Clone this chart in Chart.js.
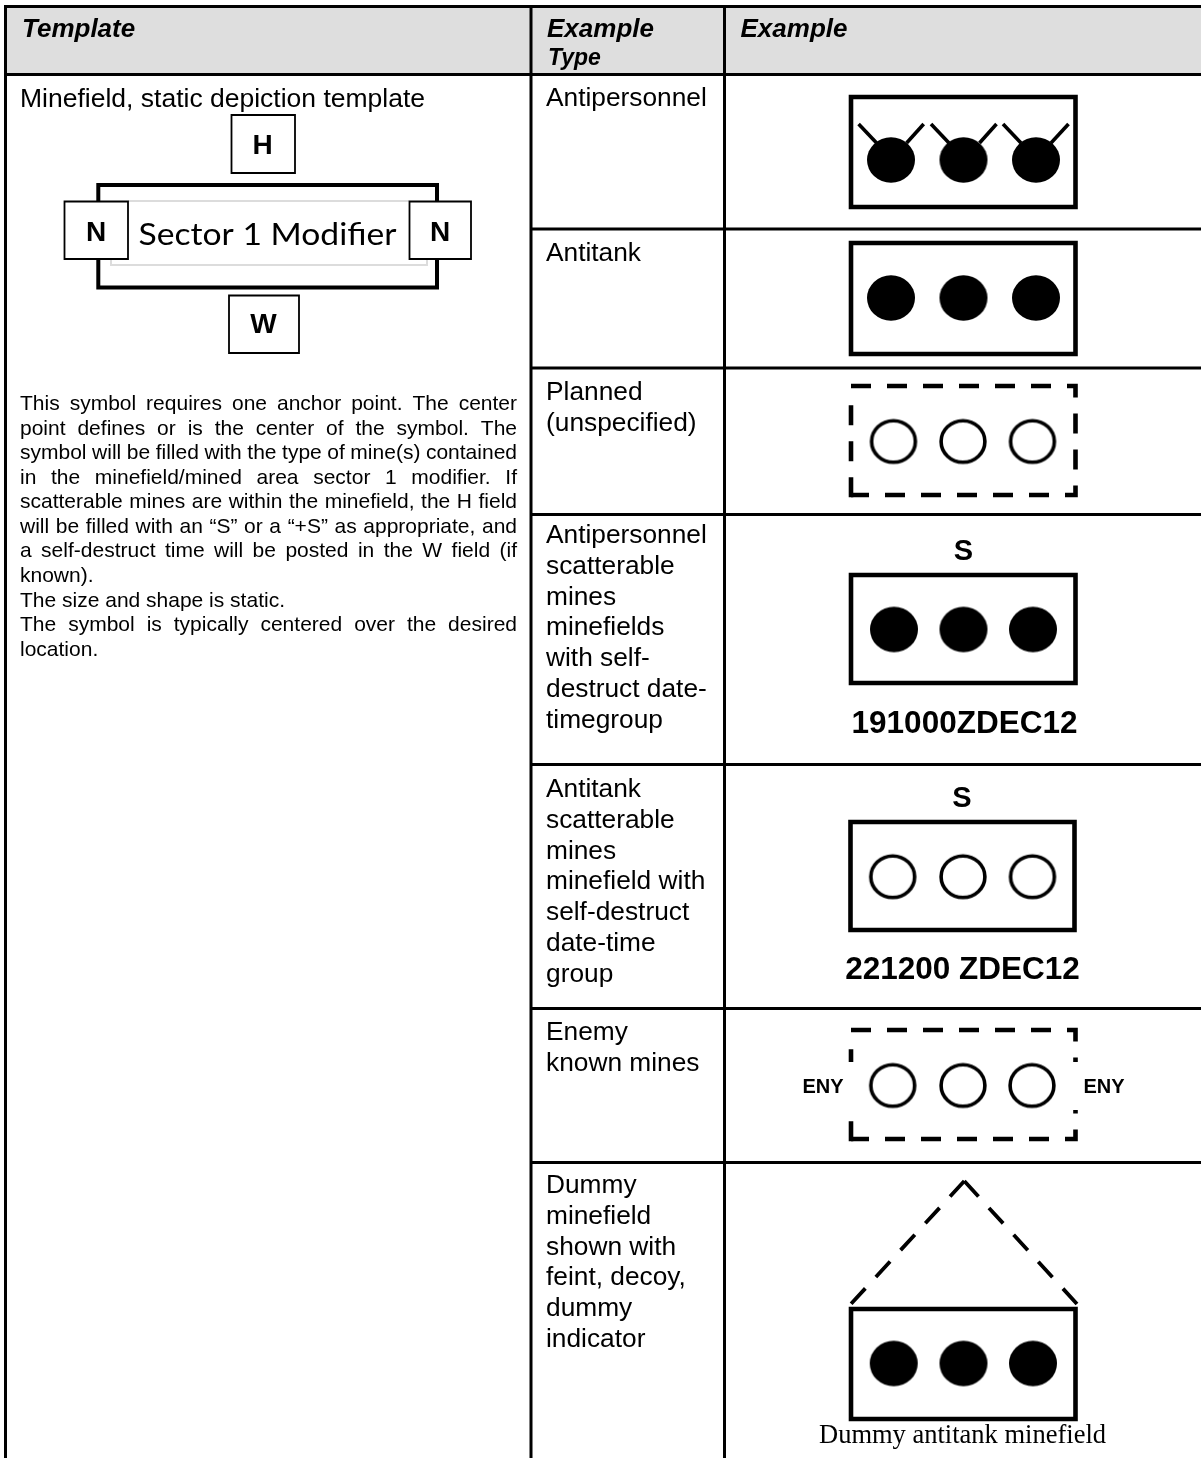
<!DOCTYPE html>
<html>
<head>
<meta charset="utf-8">
<title>Minefield, static depiction template</title>
<script src="https://cdn.jsdelivr.net/npm/chart.js@4"></script>
<style>html,body{margin:0;padding:0;background:#fff}canvas{display:block}</style>
</head>
<body>
<canvas id="c" width="1201" height="1458"></canvas>
<script>
// ---------- table text ----------
const headerLabels = ["Template", "Example", "Type", "Example"];
const templateTitle = "Minefield, static depiction template";
const templateFields = ["H", "N", "N", "W"];
const sectorLabel = "Sector 1 Modifier";
const paragraphLines = [
  "This symbol requires one anchor point. The center",
  "point defines or is the center of the symbol. The",
  "symbol will be filled with the type of mine(s) contained",
  "in the minefield/mined area sector 1 modifier. If",
  "scatterable mines are within the minefield, the H field",
  "will be filled with an \u201CS\u201D or a \u201C+S\u201D as appropriate, and",
  "a self-destruct time will be posted in the W field (if",
  "known).",
  "The size and shape is static.",
  "The symbol is typically centered over the desired",
  "location."
];
const exampleTypes = [
  ["Antipersonnel"],
  ["Antitank"],
  ["Planned", "(unspecified)"],
  ["Antipersonnel", "scatterable", "mines", "minefields", "with self-", "destruct date-", "timegroup"],
  ["Antitank", "scatterable", "mines", "minefield with", "self-destruct", "date-time", "group"],
  ["Enemy", "known mines"],
  ["Dummy", "minefield", "shown with", "feint, decoy,", "dummy", "indicator"]
];
const exampleTypeBaselines = [106, 261, 400, 543, 797, 1040, 1193];
const symbolLabels = ["S", "191000ZDEC12", "S", "221200 ZDEC12", "ENY", "ENY", "Dummy antitank minefield"];

// ---------- table rules (scale values) ----------
const pageWidth = 1201, pageHeight = 1458;
const columnRuleX = [5.5, 531, 724.5];
const headerRuleY = 74.5;
const rowRuleY = [229, 368, 514.5, 764.5, 1008.5, 1162.5];
const tableTopY = 6.5;

// ---------- template figure ----------
const templateFrameX = [98.3, 437], templateFrameY = [185, 287.5];
const fieldBoxH = [[231.5, 295], [115, 173]];
const fieldBoxNL = [[64.5, 128], [201.5, 259]];
const fieldBoxNR = [[409.5, 471], [201.5, 259]];
const fieldBoxW = [[229, 299], [295.5, 353]];

// ---------- example symbols ----------
const frameX = [851, 1075.5];
const frame1Y = [97, 207], frame2Y = [243, 354], frame3Y = [386, 495], frame4Y = [575, 683],
      frame5Y = [822, 930], frame6Y = [1030, 1139], frame7Y = [1309, 1419];
const frame5X = [850.5, 1074.5];
const mines1X = [891, 963.5, 1036], mines1Y = 160;
const mines2X = [891, 963.5, 1036], mines2Y = 298;
const mines3X = [893.5, 963, 1032.5], mines3Y = 441.5;
const mines4X = [894, 963.5, 1033], mines4Y = 629.5;
const mines5X = [892.7, 963, 1032.5], mines5Y = 876.7;
const mines6X = [892.7, 963, 1032], mines6Y = 1085.5;
const mines7X = [893.7, 963.5, 1033], mines7Y = 1363.5;
const fuses = [
  [[858.6, 124], [876.6, 143]], [[923.7, 124], [906.6, 143]],
  [[931, 124], [949, 143]],     [[996.5, 124], [979.5, 143]],
  [[1003, 124], [1021, 143]],   [[1068.5, 124], [1051, 143]]
];
const dummyApex = [964.3, 1181], dummyLeftEnd = [850, 1305], dummyRightEnd = [1077, 1304];
const enyMaskY = [1062, 1110];

// ---------- mine glyphs: slightly oval, as in the reference ----------
function mineGlyph(solid) {
  const g = document.createElement("canvas");
  g.width = 50; g.height = 48;
  const k = g.getContext("2d");
  k.beginPath();
  if (solid) {
    k.ellipse(25, 24, 24, 22.7, 0, 0, Math.PI * 2);
    k.fillStyle = "#000"; k.fill();
  } else {
    k.ellipse(25, 24, 21.9, 20.8, 0, 0, Math.PI * 2);
    k.fillStyle = "#fff"; k.fill();
    k.strokeStyle = "#000"; k.lineWidth = 3.6; k.stroke();
  }
  return g;
}
const solidMine = mineGlyph(true), openMine = mineGlyph(false);

// ---------- dataset helpers ----------
const sets = [];
const xy = (p) => ({ x: p[0], y: p[1] });
function line(points, width, color, extra) {
  sets.push(Object.assign({
    type: "scatter", showLine: true, data: points.map(xy), borderColor: color || "#000",
    borderWidth: width, pointRadius: 0, borderCapStyle: "butt", borderJoinStyle: "miter",
    tension: 0, fill: false, clip: false
  }, extra || {}));
}
function box(xs, ys, width, extra) {
  line([[xs[0], ys[0]], [xs[1], ys[0]], [xs[1], ys[1]], [xs[0], ys[1]], [xs[0], ys[0]]], width, "#000",
    Object.assign({ borderCapStyle: "square" }, extra || {}));
}
function mines(xs, y, solid) {
  sets.push({
    type: "scatter", showLine: false, data: xs.map((x) => ({ x, y })),
    pointStyle: solid ? solidMine : openMine, pointRadius: 23, pointHoverRadius: 23, clip: false
  });
}
function dashedFrame(xs, ys) {
  const dash = { borderDash: [20, 16], borderCapStyle: "butt" };
  line([[xs[0], ys[0]], [xs[1], ys[0]], [xs[1], ys[1]], [xs[0], ys[1]]], 4.6, "#000", dash);
  line([[xs[0], ys[1] + 2.3], [xs[0], ys[0] + 12]], 4.6, "#000", dash);
}

// ---------- painted in this order ----------
line([[columnRuleX[0], 40.5], [pageWidth, 40.5]], 67, "#dedede");
line([[columnRuleX[0] - 1.5, tableTopY], [pageWidth, tableTopY]], 3);
line([[columnRuleX[0], headerRuleY], [pageWidth, headerRuleY]], 3);
rowRuleY.forEach((y) => line([[columnRuleX[1], y], [pageWidth, y]], 3));
columnRuleX.forEach((x) => line([[x, tableTopY - 1.5], [x, pageHeight]], 3));

// template figure
box(templateFrameX, templateFrameY, 4);
line([[128, 201], [409, 201]], 2, "#dcdcdc");
line([[111, 259], [111, 265], [427, 265], [427, 259]], 2, "#dcdcdc");
[fieldBoxH, fieldBoxNL, fieldBoxNR, fieldBoxW].forEach((b) =>
  box(b[0], b[1], 1.8, { fill: "shape", backgroundColor: "#fff" }));

// example 1: antipersonnel
box(frameX, frame1Y, 4.6);
fuses.forEach((f) => line(f, 3.6));
mines(mines1X, mines1Y, true);
// example 2: antitank
box(frameX, frame2Y, 4.6);
mines(mines2X, mines2Y, true);
// example 3: planned
dashedFrame(frameX, frame3Y);
mines(mines3X, mines3Y, false);
// example 4
box(frameX, frame4Y, 4.6);
mines(mines4X, mines4Y, true);
// example 5
box(frame5X, frame5Y, 4.6);
mines(mines5X, mines5Y, false);
// example 6: enemy
dashedFrame(frameX, frame6Y);
line([[frameX[0], enyMaskY[0]], [frameX[0], enyMaskY[1]]], 7, "#fff");
line([[frameX[1], enyMaskY[0]], [frameX[1], enyMaskY[1]]], 7, "#fff");
mines(mines6X, mines6Y, false);
// example 7: dummy
line([dummyApex, dummyLeftEnd], 3.8, "#000", { borderDash: [21, 15.5] });
line([dummyApex, dummyRightEnd], 3.8, "#000", { borderDash: [21, 15.5] });
box(frameX, frame7Y, 4.6);
mines(mines7X, mines7Y, true);

sets.forEach((d, i) => { d.order = sets.length - i; });

// ---------- text plugin (positions go through the scales) ----------
const SANS = '"Liberation Sans", Arial, sans-serif';
const tableText = {
  id: "tableText",
  afterDatasetsDraw(chart) {
    const c = chart.ctx, X = chart.scales.x, Y = chart.scales.y;
    const put = (s, x, y, font, align, fitW) => {
      c.save();
      c.font = font; c.fillStyle = "#000"; c.textBaseline = "alphabetic"; c.textAlign = align || "left";
      const px = X.getPixelForValue(x), py = Y.getPixelForValue(y);
      if (fitW) {
        c.translate(px, py);
        c.scale(fitW / c.measureText(s).width, 1);
        c.fillText(s, 0, 0);
      } else c.fillText(s, px, py);
      c.restore();
    };
    const justify = (s, x, y, w, font) => {
      c.save();
      c.font = font; c.fillStyle = "#000"; c.textBaseline = "alphabetic"; c.textAlign = "left";
      const spaces = s.split(" ").length - 1;
      c.wordSpacing = ((w - c.measureText(s).width) / spaces) + "px";
      c.fillText(s, X.getPixelForValue(x), Y.getPixelForValue(y));
      c.restore();
    };
    // headers
    put(headerLabels[0], 22, 37, "italic bold 26px " + SANS);
    put(headerLabels[1], 547, 37, "italic bold 26px " + SANS);
    put(headerLabels[2], 548, 65, "italic bold 23px " + SANS);
    put(headerLabels[3], 740.5, 37, "italic bold 26px " + SANS);
    // template column
    put(templateTitle, 20, 107, "26.5px " + SANS);
    const fieldFont = "bold 28px " + SANS;
    put(templateFields[0], 262.5, 154, fieldFont, "center");
    put(templateFields[1], 96, 240.5, fieldFont, "center");
    put(templateFields[2], 440, 240.5, fieldFont, "center");
    put(templateFields[3], 263.5, 333, fieldFont, "center");
    put(sectorLabel, 138.5, 245, "31px Lato, sans-serif", "left", 258);
    const paraFont = "21px " + SANS;
    paragraphLines.forEach((s, i) => {
      const y = 410 + i * 24.57;
      const last = i === 7 || i === 8 || i === 10;
      if (last) put(s, 20, y, paraFont); else justify(s, 20, y, 497, paraFont);
    });
    // example type column
    exampleTypes.forEach((lines, r) => lines.forEach((s, i) =>
      put(s, 546, exampleTypeBaselines[r] + i * 30.8, "26.3px " + SANS)));
    // symbol labels
    const boldFont = "bold 29px " + SANS, dtgFont = "bold 31.5px " + SANS;
    put(symbolLabels[0], 963.5, 560, boldFont, "center");
    put(symbolLabels[1], 964.5, 733, dtgFont, "center");
    put(symbolLabels[2], 962, 807, boldFont, "center");
    put(symbolLabels[3], 962.5, 979, dtgFont, "center");
    put(symbolLabels[4], 823, 1092.5, "bold 20px " + SANS, "center");
    put(symbolLabels[5], 1104, 1092.5, "bold 20px " + SANS, "center");
    put(symbolLabels[6], 962.5, 1443, '26.5px "Liberation Serif", "Times New Roman", serif', "center");
  }
};

// Marks are deliberately laid over the whole page: no overflow padding round the scales.
Chart.registry.getController("scatter").prototype.getMaxOverflow = function () { return 0; };

Chart.defaults.font.family = "Liberation Sans";
new Chart(document.getElementById("c"), {
  type: "scatter",
  data: { datasets: sets },
  options: {
    responsive: false,
    animation: false,
    events: [],
    layout: { padding: 0 },
    plugins: { legend: { display: false }, tooltip: { enabled: false }, title: { display: false } },
    scales: {
      x: { type: "linear", min: 0, max: pageWidth, display: false },
      y: { type: "linear", min: 0, max: pageHeight, reverse: true, display: false }
    }
  },
  plugins: [tableText]
});
</script>
</body>
</html>
